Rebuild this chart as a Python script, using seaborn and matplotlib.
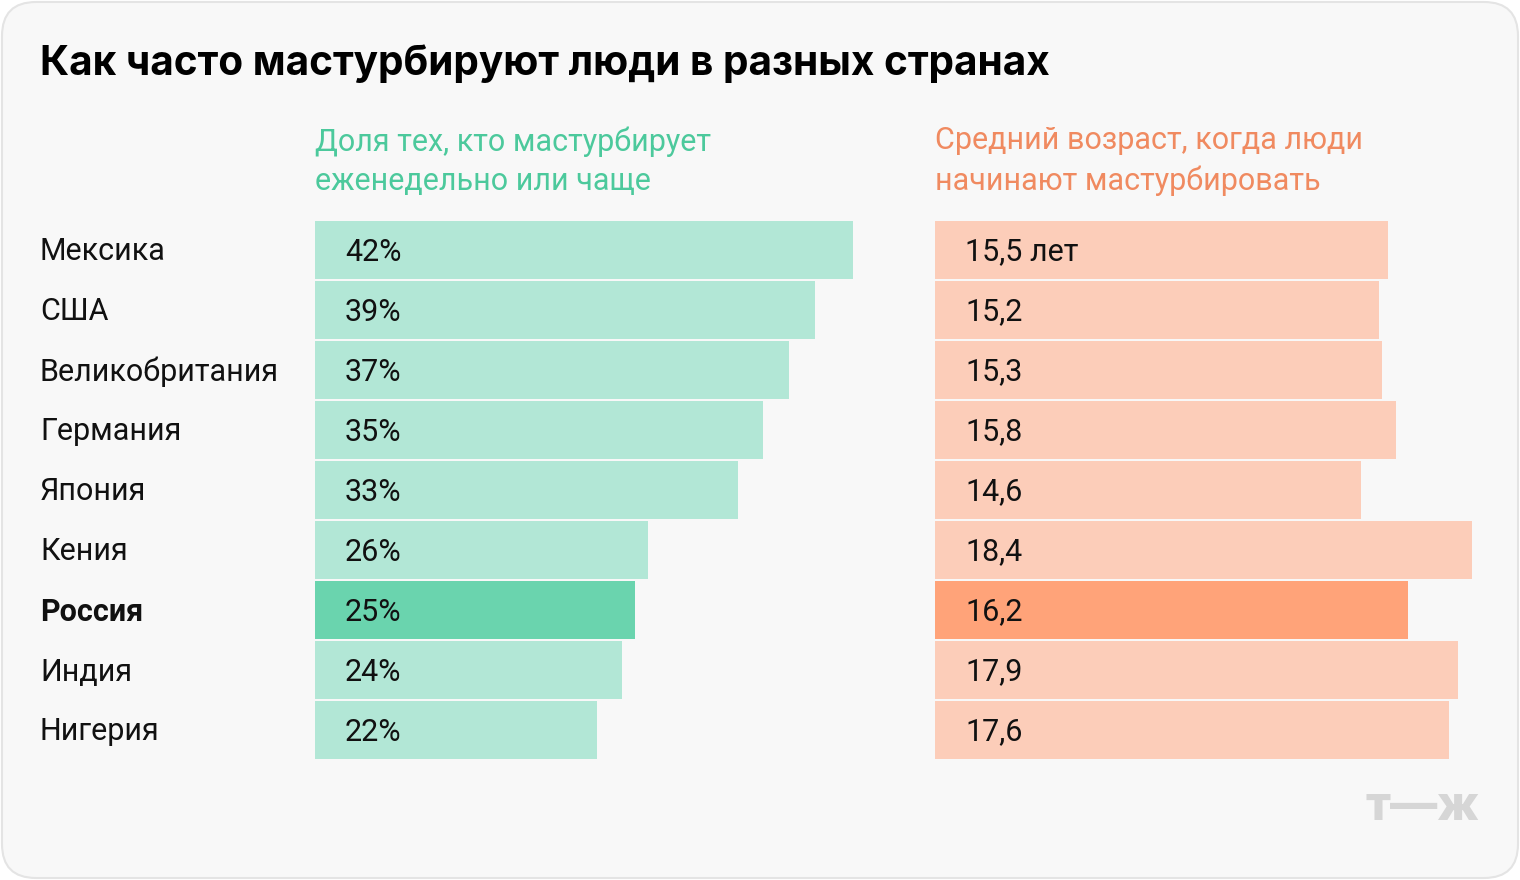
import matplotlib
matplotlib.use("Agg")
import matplotlib.pyplot as plt
import seaborn as sns
import pandas as pd
from matplotlib.patches import FancyBboxPatch

countries = ["Мексика", "США", "Великобритания", "Германия", "Япония",
             "Кения", "Россия", "Индия", "Нигерия"]
weekly_share = [42, 39, 37, 35, 33, 26, 25, 24, 22]
start_age = [15.5, 15.2, 15.3, 15.8, 14.6, 18.4, 16.2, 17.9, 17.6]
age_labels = ["15,5 лет", "15,2", "15,3", "15,8", "14,6", "18,4", "16,2", "17,9", "17,6"]
highlight = "Россия"

title = "Как часто мастурбируют люди в разных странах"
left_header = "Доля тех, кто мастурбирует\nеженедельно или чаще"
right_header = "Средний возраст, когда люди\nначинают мастурбировать"

df = pd.DataFrame({"country": countries, "share": weekly_share, "age": start_age})

sns.set_theme(style="white")
plt.rcParams["font.family"] = ["Inter", "DejaVu Sans"]
body = ["Roboto", "DejaVu Sans"]

W, H = 1520, 880
fig = plt.figure(figsize=(W / 100, H / 100), dpi=100, facecolor="white")

# card background
bg = fig.add_axes([0, 0, 1, 1])
bg.set_xlim(0, W)
bg.set_ylim(H, 0)
bg.axis("off")
bg.add_patch(FancyBboxPatch((2, 2), W - 4, H - 4, boxstyle="round,pad=0,rounding_size=34",
                            facecolor="#f8f8f8", edgecolor="#e4e4e4", linewidth=1.5))


def px_axes(x0, y0, w, h):
    return fig.add_axes([x0 / W, 1 - (y0 + h) / H, w / W, h / H])


green_pal = {c: ("#6ad4ae" if c == highlight else "#b2e7d6") for c in countries}
orange_pal = {c: ("#ffa379" if c == highlight else "#fccdb9") for c in countries}

ax1 = px_axes(315, 220, 565, 540)
sns.barplot(data=df, x="share", y="country", hue="country", palette=green_pal,
            legend=False, width=0.967, saturation=1, linewidth=0, ax=ax1, order=countries)
ax1.set_xlim(0, 565 / 12.81)

ax2 = px_axes(935, 220, 560, 540)
sns.barplot(data=df, x="age", y="country", hue="country", palette=orange_pal,
            legend=False, width=0.967, saturation=1, linewidth=0, ax=ax2, order=countries)
ax2.set_xlim(0, 560 / 29.2)

for ax, labels in [(ax1, [f"{v}%" for v in weekly_share]), (ax2, age_labels)]:
    ax.set_facecolor("none")
    ax.set_ylim(8.5, -0.5)
    ax.set_xlabel("")
    ax.set_ylabel("")
    ax.set_xticks([])
    ax.set_yticks([])
    sns.despine(ax=ax, left=True, bottom=True)
    for i, lab in enumerate(labels):
        ax.annotate(lab, xy=(0, i), xytext=(21.6, -1.5), textcoords="offset points",
                    ha="left", va="center", fontsize=22, color="#111111", family=body)

# country names
for i, c in enumerate(countries):
    bg.text(40, 252 + 60 * i, c, ha="left", va="center", fontsize=22,
            fontweight="bold" if c == highlight else "normal", color="#111111", family=body)

bg.text(40, 64, title, ha="left", va="center", fontsize=29.2, fontweight="bold", color="#000000")
bg.text(315, 161, left_header, ha="left", va="center", fontsize=22, color="#4cc99c",
        linespacing=1.45, family=body)
bg.text(935, 161, right_header, ha="left", va="center", fontsize=22, color="#f08a60",
        linespacing=1.45, family=body)
bg.text(1479, 808, "т—ж", ha="right", va="center", fontsize=34, fontweight="heavy",
        color="#d6d6d6")

fig.savefig("out.png", dpi=100, facecolor="white")
